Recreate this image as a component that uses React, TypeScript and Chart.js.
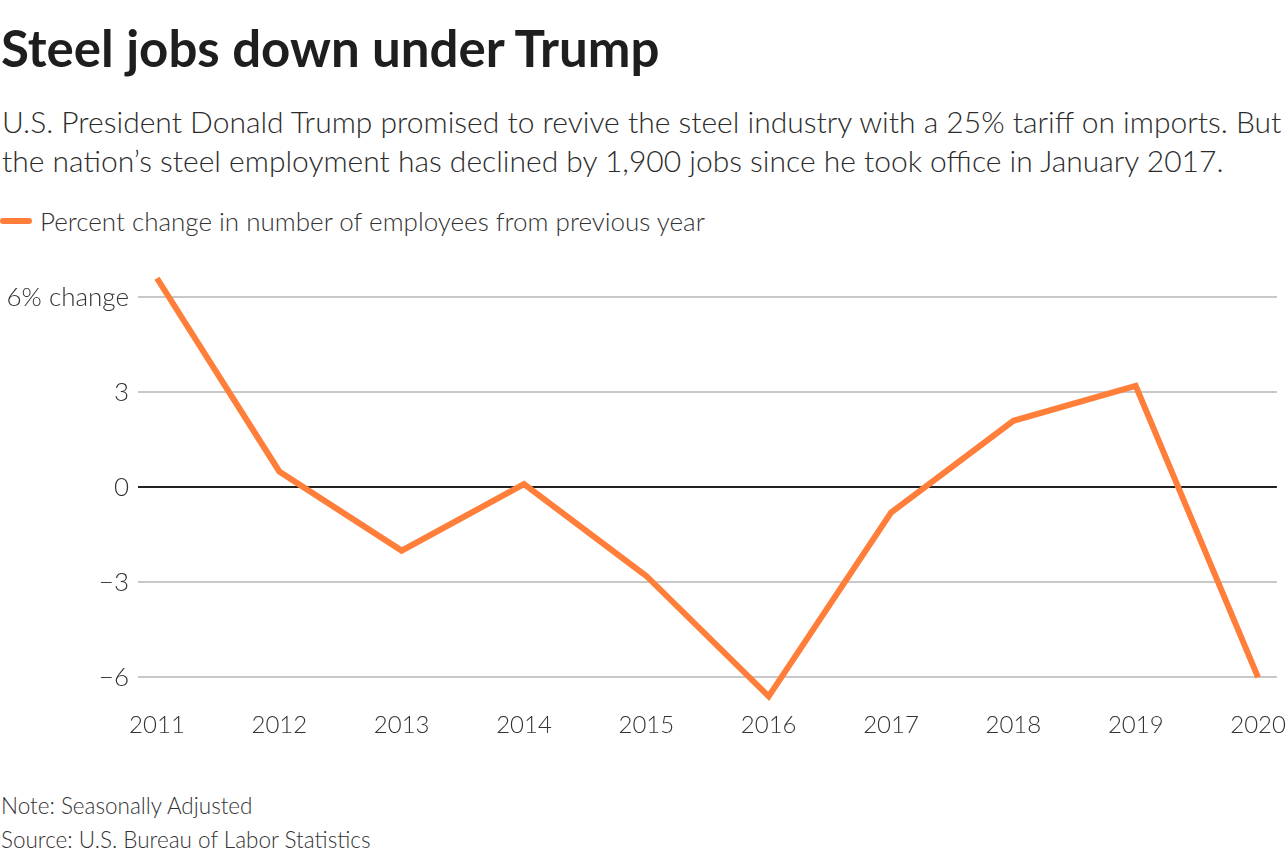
import React, { useEffect, useRef } from "react";
import { Chart, registerables } from "chart.js";

Chart.register(...registerables);

const years = [2011, 2012, 2013, 2014, 2015, 2016, 2017, 2018, 2019, 2020];
const pctChange = [6.6, 0.5, -2.0, 0.1, -2.8, -6.6, -0.8, 2.1, 3.2, -6.0];
const yTicks = [-6, -3, 0, 3, 6];
const seriesLabel = "Percent change in number of employees from previous year";
const title = "Steel jobs down under Trump";
const subtitle1 = "U.S. President Donald Trump promised to revive the steel industry with a 25% tariff on imports. But";
const subtitle2 = "the nation\u2019s steel employment has declined by 1,900 jobs since he took office in January 2017.";
const note = "Note: Seasonally Adjusted";
const source = "Source: U.S. Bureau of Labor Statistics";

const FONT = "Lato, 'Noto Sans', sans-serif";
const ORANGE = "#FF7F3A";
const TEXT = "#333333";

export default function App() {
  const ref = useRef<HTMLCanvasElement | null>(null);
  useEffect(() => {
    const prev = document.body.style.margin;
    document.body.style.margin = "0";
    const chart = new Chart(ref.current!, {
      type: "line",
      data: {
        datasets: [
          {
            label: seriesLabel,
            data: years.map((y, i) => ({ x: y, y: pctChange[i] })),
            borderColor: ORANGE,
            backgroundColor: ORANGE,
            borderWidth: 6,
            pointRadius: 0,
            tension: 0,
            borderJoinStyle: "miter",
          },
        ],
      },
      options: {
        animation: false,
        responsive: false,
        maintainAspectRatio: false,
        layout: { padding: { top: 20, right: 6, left: 0, bottom: 0 } },
        plugins: { legend: { display: false }, tooltip: { enabled: false } },
        scales: {
          x: {
            type: "linear",
            min: 2010.845,
            max: 2020.154,
            afterBuildTicks: (s: any) => {
              s.ticks = years.map((v) => ({ value: v }));
            },
            afterFit: (s: any) => {
              s.height = 52;
            },
            grid: { display: false, drawTicks: false },
            border: { display: false },
            ticks: {
              padding: 2,
              maxRotation: 0,
              autoSkip: false,
              color: TEXT,
              font: { family: FONT, size: 24, weight: "300" },
              callback: (v: any) => String(v),
            },
          },
          y: {
            min: -7,
            max: 7,
            afterBuildTicks: (s: any) => {
              s.ticks = yTicks.map((v) => ({ value: v }));
            },
            afterFit: (s: any) => {
              s.width = 138;
            },
            grid: {
              drawTicks: false,
              color: (c: any) => (c.tick && c.tick.value === 0 ? "#222222" : "#c8c8c8"),
              lineWidth: 2,
            },
            border: { display: false },
            ticks: {
              padding: 9,
              color: TEXT,
              font: { family: FONT, size: 26, weight: "300" },
              callback: (v: any) => {
                const n = Number(v);
                if (n === 6) return "6% change";
                if (n < 0) return "\u2212" + Math.abs(n);
                return String(n);
              },
            },
          },
        },
      },
    });
    return () => {
      chart.destroy();
      document.body.style.margin = prev;
    };
  }, []);

  const base: React.CSSProperties = {
    position: "absolute",
    left: 0,
    margin: 0,
    whiteSpace: "nowrap",
    fontFamily: FONT,
  };

  return (
    <div style={{ position: "relative", width: 1288, height: 866, background: "#fff", overflow: "hidden" }}>
      <div style={{ ...base, left: 1, top: 17, fontSize: 51, fontWeight: 700, color: "#1e1e1e", lineHeight: "62px" }}>{title}</div>
      <div style={{ ...base, left: 2, top: 102, fontSize: 30, fontWeight: 300, color: "#2b2b2b", lineHeight: "39px" }}>
        {subtitle1}
        <br />
        {subtitle2}
      </div>
      <div style={{ ...base, top: 206, height: 30, display: "flex", alignItems: "center" }}>
        <span style={{ display: "inline-block", width: 32, height: 6, borderRadius: 3, background: ORANGE, marginRight: 8 }} />
        <span style={{ fontSize: 26, fontWeight: 300, color: TEXT }}>{seriesLabel}</span>
      </div>
      <canvas ref={ref} width={1288} height={520} style={{ position: "absolute", left: 0, top: 241, width: 1288, height: 520 }} />
      <div style={{ ...base, left: 1, top: 789, fontSize: 22.5, fontWeight: 300, color: TEXT, lineHeight: "34px" }}>
        {note}
        <br />
        {source}
      </div>
    </div>
  );
}
